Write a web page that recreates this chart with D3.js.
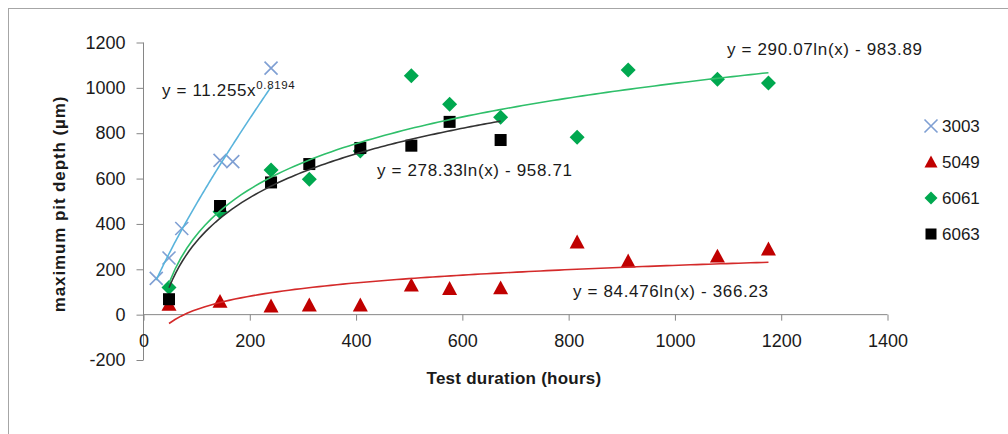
<!DOCTYPE html>
<html>
<head>
<meta charset="utf-8">
<script src="https://cdn.jsdelivr.net/npm/d3@7"></script>
<style>
  body { margin: 0; background: #fff; }
  text { font-family: "Liberation Sans", Arial, sans-serif; fill: #1a1a1a; }
</style>
</head>
<body>
<div id="chart"></div>
<script>
// hours
const hours3003 = [24, 48, 72, 144, 168, 240];
const depth3003 = [160, 250, 380, 680, 675, 1087];

const hours5049 = [48, 144, 240, 312, 408, 504, 576, 672, 816, 912, 1080, 1176];
const depth5049 = [45, 58, 38, 42, 42, 130, 115, 118, 320, 236, 258, 289];

const hours6061 = [48, 144, 240, 312, 408, 504, 576, 672, 816, 912, 1080, 1176];
const depth6061 = [120, 454, 638, 597, 722, 1053, 928, 870, 782, 1079, 1038, 1021];

const hours6063 = [48, 144, 240, 312, 408, 504, 576, 672];
const depth6063 = [68, 479, 583, 664, 735, 745, 850, 770];

// trendline coefficients as printed on the chart
const power3003 = [11.255, 0.8194];
const log5049 = [84.476, -366.23];
const log6061 = [290.07, -983.89];
const log6063 = [278.33, -958.71];

const xTicks = [0, 200, 400, 600, 800, 1000, 1200, 1400];
const yTicks = [-200, 0, 200, 400, 600, 800, 1000, 1200];
const legendNames = ["3003", "5049", "6061", "6063"];

let W = 1008, H = 434;

let svg = d3.select("#chart").append("svg")
  .attr("width", W)
  .attr("height", H);

// outer chart border
svg.append("rect")
  .attr("x", 8.5).attr("y", 8.5)
  .attr("width", 1020).attr("height", 450)
  .attr("fill", "none")
  .attr("stroke", "#a6a6a6");

let x = d3.scaleLinear().domain([0, 1400]).range([143.5, 887.5]);
let y = d3.scaleLinear().domain([-200, 1200]).range([360, 42.5]);

let plain = (d) => String(d);

// y axis
svg.append("g")
  .attr("transform", `translate(${x(0)},0)`)
  .call(d3.axisLeft(y).tickValues(yTicks).tickSize(7).tickPadding(11).tickFormat(plain))
  .call((g) => g.select(".domain").attr("stroke", "#868686").attr("d", `M0,${y(-200)}V${y(1200)}`))
  .call((g) => g.selectAll(".tick line").attr("stroke", "#868686"))
  .call((g) => g.selectAll(".tick text").attr("font-size", 18).attr("fill", "#1a1a1a")
    .style("font-family", "Liberation Sans, Arial, sans-serif"));

// x axis at zero
svg.append("g")
  .attr("transform", `translate(0,${y(0)})`)
  .call(d3.axisBottom(x).tickValues(xTicks).tickSize(6).tickPadding(14).tickFormat(plain))
  .call((g) => g.select(".domain").attr("stroke", "#868686").attr("d", `M${x(0)},0H${x(1400)}`))
  .call((g) => g.selectAll(".tick line").attr("stroke", "#868686"))
  .call((g) => g.selectAll(".tick text").attr("font-size", 18).attr("fill", "#1a1a1a")
    .style("font-family", "Liberation Sans, Arial, sans-serif"));

// axis titles
svg.append("text")
  .attr("x", 514).attr("y", 384)
  .attr("text-anchor", "middle")
  .attr("font-size", 17).attr("font-weight", "bold")
  .attr("letter-spacing", 0.25)
  .text("Test duration (hours)");

svg.append("text")
  .attr("transform", "translate(65,204) rotate(-90)")
  .attr("text-anchor", "middle")
  .attr("font-size", 17).attr("font-weight", "bold")
  .attr("letter-spacing", 0.9)
  .text("maximum pit depth (µm)");

// trendlines
let sample = (x0, x1, f) => d3.range(0, 101).map((i) => {
  let h = x0 + (x1 - x0) * i / 100;
  return [h, f(h)];
});
let line = d3.line().x((d) => x(d[0])).y((d) => y(d[1]));

let trends = [
  { pts: sample(24, 240, (h) => power3003[0] * Math.pow(h, power3003[1])), color: "#5ab4dc" },
  { pts: sample(48, 1176, (h) => log5049[0] * Math.log(h) + log5049[1]), color: "#d42a2a" },
  { pts: sample(48, 1176, (h) => log6061[0] * Math.log(h) + log6061[1]), color: "#2fbf6a" },
  { pts: sample(48, 672, (h) => log6063[0] * Math.log(h) + log6063[1]), color: "#333333" },
];

// markers
let symX = (g, cx, cy, s) => g.append("path")
  .attr("d", `M${cx - s},${cy - s}L${cx + s},${cy + s}M${cx - s},${cy + s}L${cx + s},${cy - s}`)
  .attr("stroke", "#7f9fd3").attr("stroke-width", 1.6).attr("fill", "none");
let symTri = (g, cx, cy, s) => g.append("path")
  .attr("d", `M${cx},${cy - s}L${cx + s},${cy + s * 0.85}L${cx - s},${cy + s * 0.85}Z`)
  .attr("fill", "#c00000");
let symDia = (g, cx, cy, s) => g.append("path")
  .attr("d", `M${cx},${cy - s}L${cx + s},${cy}L${cx},${cy + s}L${cx - s},${cy}Z`)
  .attr("fill", "#00a84f");
let symSq = (g, cx, cy, s) => g.append("rect")
  .attr("x", cx - s).attr("y", cy - s).attr("width", 2 * s).attr("height", 2 * s)
  .attr("fill", "#000");

let series = [
  { hx: hours3003, dy: depth3003, sym: symX, size: 6.5 },
  { hx: hours5049, dy: depth5049, sym: symTri, size: 7.5 },
  { hx: hours6061, dy: depth6061, sym: symDia, size: 7.5 },
  { hx: hours6063, dy: depth6063, sym: symSq, size: 6 },
];

let marks = svg.append("g");
series.forEach((s, i) => {
  s.hx.forEach((h, j) => s.sym(marks, x(h), y(s.dy[j]), s.size));
});

let lines = svg.append("g");
trends.forEach((t) => {
  lines.append("path")
    .datum(t.pts)
    .attr("fill", "none")
    .attr("stroke", t.color)
    .attr("stroke-width", 1.6)
    .attr("d", line);
});

// equation labels
let eq = svg.append("g").attr("font-size", 17).attr("letter-spacing", 0.65);
let t1 = eq.append("text").attr("x", 162).attr("y", 96);
t1.append("tspan").text("y = 11.255x");
t1.append("tspan").attr("font-size", 11.5).attr("dy", -7).text(power3003[1]);

eq.append("text").attr("x", 727).attr("y", 55)
  .text(`y = ${log6061[0].toFixed(2)}ln(x) - ${(-log6061[1]).toFixed(2)}`);
eq.append("text").attr("x", 377).attr("y", 176)
  .text(`y = ${log6063[0].toFixed(2)}ln(x) - ${(-log6063[1]).toFixed(2)}`);
eq.append("text").attr("x", 573).attr("y", 297)
  .text(`y = ${log5049[0].toFixed(3)}ln(x) - ${(-log5049[1]).toFixed(2)}`);

// legend
let legendY = [126, 162, 198, 234];
let leg = svg.append("g");
legendNames.forEach((name, i) => {
  series[i].sym(leg, 931, legendY[i], i === 3 ? 5.5 : 6.5);
  leg.append("text")
    .attr("x", 942).attr("y", legendY[i])
    .attr("dy", "0.35em")
    .attr("font-size", 17)
    .text(name);
});
</script>
</body>
</html>
